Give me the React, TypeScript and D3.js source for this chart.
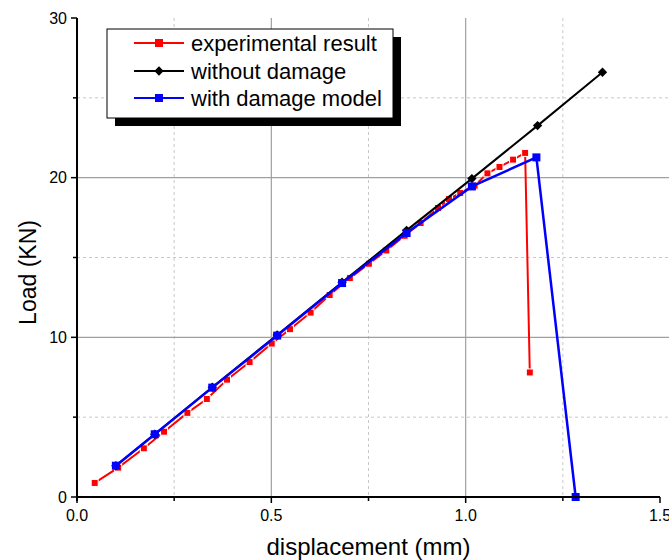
import React from "react";
import * as d3 from "d3";

// experimental result (red squares)
const expX = [0.0455, 0.106, 0.172, 0.224, 0.284, 0.334, 0.386, 0.444, 0.501, 0.548, 0.601, 0.65, 0.702, 0.751, 0.796, 0.843, 0.884, 0.929, 0.957, 0.986, 1.023, 1.056, 1.087, 1.122, 1.153, 1.165];
const expY = [0.88, 1.84, 3.05, 4.09, 5.27, 6.14, 7.35, 8.45, 9.61, 10.51, 11.55, 12.65, 13.71, 14.61, 15.44, 16.36, 17.16, 18.1, 18.66, 19.04, 19.5, 20.27, 20.67, 21.13, 21.55, 7.8];

// without damage (black diamonds)
const noDmgX = [0.1, 0.2, 0.348, 0.515, 0.682, 0.848, 1.016, 1.185, 1.352];
const noDmgY = [1.96, 3.93, 6.87, 10.15, 13.45, 16.7, 19.94, 23.26, 26.6];

// with damage model (blue squares)
const dmgX = [0.1, 0.2, 0.348, 0.515, 0.682, 0.848, 1.016, 1.182, 1.283];
const dmgY = [1.96, 3.93, 6.85, 10.11, 13.4, 16.53, 19.45, 21.27, 0];

const xTicks = [0, 0.5, 1.0, 1.5];
const xMinor = [0.25, 0.75, 1.25];
const yTicks = [0, 10, 20, 30];
const yMinor = [5, 15, 25];

const legendLabels = ["experimental result", "without damage", "with damage model"];

const W = 669;
const H = 560;
const margin = { left: 77, right: 9, top: 18, bottom: 63 };
const font = "Liberation Sans, Arial, sans-serif";

export default function App() {
  const x = d3.scaleLinear().domain([0, 1.5]).range([margin.left, W - margin.right]);
  const y = d3.scaleLinear().domain([0, 30]).range([H - margin.bottom, margin.top]);

  const line = d3
    .line<[number, number]>()
    .x((d) => x(d[0]))
    .y((d) => y(d[1]));

  const exp = expX.map((v, i) => [v, expY[i]] as [number, number]);
  const noDmg = noDmgX.map((v, i) => [v, noDmgY[i]] as [number, number]);
  const dmg = dmgX.map((v, i) => [v, dmgY[i]] as [number, number]);

  const x0 = x(0);
  const x1 = x(1.5);
  const y0 = y(0);
  const yTop = y(30);

  const diamond = d3.symbol(d3.symbolDiamond2 ?? d3.symbolDiamond, 56)();

  const lx = 107;
  const ly = 29;
  const lw = 286;
  const lh = 89;
  const rows = [43, 71, 98];
  const colors = ["#ff0000", "#000000", "#0000ff"];

  return (
    <svg
      width={W}
      height={H}
      style={{ position: "absolute", left: 0, top: 0, background: "#fff" }}
      fontFamily={font}
    >
      <rect width={W} height={H} fill="#fff" />
      {/* minor grid */}
      {xMinor.map((t) => (
        <line key={"xm" + t} x1={x(t)} x2={x(t)} y1={yTop} y2={y0} stroke="#c8c8c8" strokeDasharray="3,3" />
      ))}
      {yMinor.map((t) => (
        <line key={"ym" + t} x1={x0} x2={W} y1={y(t)} y2={y(t)} stroke="#c8c8c8" strokeDasharray="3,3" />
      ))}
      {/* major grid */}
      {xTicks.slice(1, -1).map((t) => (
        <line key={"xg" + t} x1={x(t)} x2={x(t)} y1={yTop} y2={y0} stroke="#a0a0a0" strokeWidth={1.2} />
      ))}
      {yTicks.slice(1, -1).map((t) => (
        <line key={"yg" + t} x1={x0} x2={W} y1={y(t)} y2={y(t)} stroke="#a0a0a0" strokeWidth={1.2} />
      ))}

      {/* experimental */}
      <path d={line(exp) ?? ""} fill="none" stroke="#ff0000" strokeWidth={2} />
      {exp.map((d, i) => (
        <rect key={"e" + i} x={x(d[0]) - 3.5} y={y(d[1]) - 3.5} width={7} height={7} fill="#ff0000" stroke="#fff" strokeWidth={1} />
      ))}

      {/* without damage */}
      <path d={line(noDmg) ?? ""} fill="none" stroke="#000" strokeWidth={2} />
      {noDmg.map((d, i) => (
        <path key={"b" + i} d={diamond ?? ""} transform={`translate(${x(d[0])},${y(d[1])})`} fill="#000" />
      ))}

      {/* with damage model */}
      <path d={line(dmg) ?? ""} fill="none" stroke="#0000ff" strokeWidth={2.5} />
      {dmg.map((d, i) => (
        <rect key={"d" + i} x={x(d[0]) - 4} y={y(d[1]) - 4} width={8} height={8} fill="#0000ff" />
      ))}

      {/* axes */}
      <line x1={x0} x2={x0} y1={yTop} y2={y0 + 4} stroke="#000" strokeWidth={2} />
      <line x1={x0 - 1} x2={x1} y1={y0} y2={y0} stroke="#000" strokeWidth={2} />
      {yTicks.map((t) => (
        <g key={"yt" + t}>
          <line x1={x0 - 6} x2={x0} y1={y(t)} y2={y(t)} stroke="#000" strokeWidth={1.5} />
          <text x={x0 - 10} y={y(t)} dy="0.35em" textAnchor="end" fontSize={16}>
            {t}
          </text>
        </g>
      ))}
      {yMinor.map((t) => (
        <line key={"ymt" + t} x1={x0 - 4} x2={x0} y1={y(t)} y2={y(t)} stroke="#000" strokeWidth={1.5} />
      ))}
      {xTicks.map((t) => (
        <g key={"xt" + t}>
          <line x1={x(t)} x2={x(t)} y1={y0} y2={y0 + 6} stroke="#000" strokeWidth={1.5} />
          <text x={x(t)} y={y0 + 24} textAnchor="middle" fontSize={16}>
            {d3.format(".1f")(t)}
          </text>
        </g>
      ))}
      {xMinor.map((t) => (
        <line key={"xmt" + t} x1={x(t)} x2={x(t)} y1={y0} y2={y0 + 4} stroke="#000" strokeWidth={1.5} />
      ))}

      <text x={(x0 + x1) / 2} y={H - 5} textAnchor="middle" fontSize={24}>
        displacement (mm)
      </text>
      <text transform={`translate(36,${(y0 + yTop) / 2 + 15}) rotate(-90)`} textAnchor="middle" fontSize={23}>
        Load (KN)
      </text>

      {/* legend */}
      <rect x={lx + 8} y={ly + 8} width={lw} height={lh} fill="#000" />
      <rect x={lx} y={ly} width={lw} height={lh} fill="#fff" stroke="#000" strokeWidth={1} />
      {legendLabels.map((label, i) => (
        <g key={label}>
          <line x1={134} x2={184} y1={rows[i]} y2={rows[i]} stroke={colors[i]} strokeWidth={2} />
          {i === 1 ? (
            <path d={diamond ?? ""} transform={`translate(159,${rows[i]})`} fill="#000" />
          ) : (
            <rect x={155} y={rows[i] - 4} width={8} height={8} fill={colors[i]} />
          )}
          <text x={191} y={rows[i]} dy="0.35em" fontSize={22}>
            {label}
          </text>
        </g>
      ))}
    </svg>
  );
}
